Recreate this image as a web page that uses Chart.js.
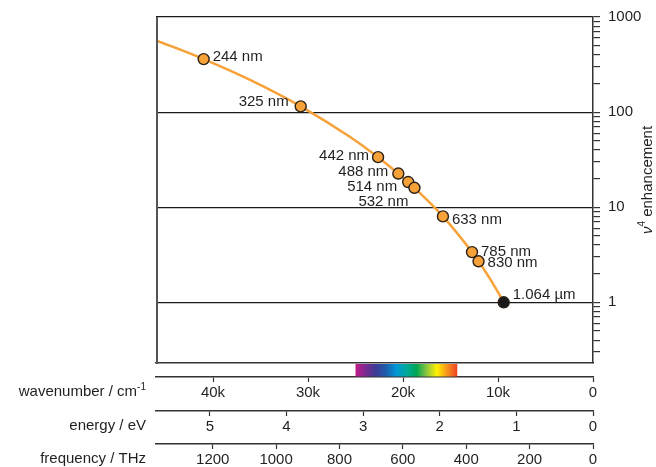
<!DOCTYPE html>
<html>
<head>
<meta charset="utf-8">
<script src="https://cdn.jsdelivr.net/npm/chart.js@4/dist/chart.umd.min.js"></script>
<style>
  html, body { margin: 0; padding: 0; background: #fff; }
</style>
</head>
<body>
<canvas id="enhChart" width="656" height="467"></canvas>
<script>
// laser lines and their v^4 enhancement (relative to 1064 nm)
const laserLabels = ["244 nm", "325 nm", "442 nm", "488 nm", "514 nm", "532 nm", "633 nm", "785 nm", "830 nm", "1.064 µm"];
const laserNm = [244, 325, 442, 488, 514, 532, 633, 785, 830, 1064];
const enhancement = [361, 115, 33.6, 22.6, 18.4, 16.0, 8.0, 3.37, 2.70, 1.0];

// orange curve: wavenumber (cm-1) and enhancement
const curveX = [46000, 40984, 36100, 30769, 25600, 22624, 20492, 19455, 18797, 15798, 12739, 12048, 10800, 9398, 9100];
const curveY = [569, 361, 218, 115, 55, 33.6, 22.6, 18.4, 16.0, 8.0, 3.37, 2.70, 1.74, 1.0, 0.88];

// visible band (nm)
const visibleNm = [400, 700];

// tick values
const wavenumberTicks = [0, 10000, 20000, 30000, 40000];
const energyTicks = [0, 1, 2, 3, 4, 5];
const frequencyTicks = [0, 200, 400, 600, 800, 1000, 1200];
const yTickLabels = [1, 10, 100, 1000];

const RANGE = 46000;              // cm-1 at the left edge of the plot
const CM_PER_EV = 8065.54;
const THZ_PER_CM = 0.0299792458;

const ink = "#231f20";
const family = "'Liberation Sans', Arial, Helvetica, sans-serif";
const font = { family: family, size: 15 };
const orange = "#f7a238";
const spectrumColors = ["#c4198b", "#7a2b8f", "#3b3b95", "#1f5eab", "#0096d8", "#00a99d", "#00a651", "#8dc63f", "#fff200", "#f7941d", "#ee4123"];

// where each laser label sits next to its dot
const labelPlace = [
  { dx: 9, dy: -2, align: "left" },
  { dx: -12, dy: -4, align: "right" },
  { dx: -9, dy: -1, align: "right" },
  { dx: -10, dy: -2, align: "right" },
  { dx: -11, dy: 5, align: "right" },
  { dx: -6, dy: 14, align: "right" },
  { dx: 9, dy: 3, align: "left" },
  { dx: 9, dy: 0, align: "left" },
  { dx: 9, dy: 2, align: "left" },
  { dx: 9, dy: -7, align: "left" }
];

const points = laserNm.map((nm, i) => ({ x: 1e7 / nm, y: enhancement[i] }));
const curve = curveX.map((x, i) => ({ x: x, y: curveY[i] }));

// minor + major ticks for the log axis
const yTicks = [];
for (let e = -1; e < 3; e++) {
  for (let m = 1; m <= 9; m++) {
    const v = +(m * Math.pow(10, e)).toPrecision(3);
    if (v >= 0.3 && v < 1000) yTicks.push(v);
  }
}
yTicks.push(1000);

function fixedTicks(list) {
  return scale => { scale.ticks = list.map(v => ({ value: v })); };
}

function bottomAxis(weight, max, ticks, height, fmt) {
  return {
    type: "linear", position: "bottom", reverse: true, min: 0, max: max, weight: weight,
    afterBuildTicks: fixedTicks(ticks),
    afterFit: s => { s.height = height; },
    border: { display: true, color: "#333", width: 1.5 },
    grid: { display: true, drawOnChartArea: false, drawTicks: true, tickLength: 5, color: "#333", tickWidth: 1.2 },
    ticks: { autoSkip: false, maxRotation: 0, color: ink, font: font, padding: 2, callback: fmt }
  };
}

const decor = {
  id: "decor",
  afterDatasetsDraw(chart) {
    const ctx = chart.ctx;
    const meta = chart.getDatasetMeta(0);
    ctx.save();
    ctx.font = "15px " + family;
    ctx.fillStyle = ink;
    ctx.textBaseline = "middle";
    meta.data.forEach((el, i) => {
      const p = labelPlace[i];
      ctx.textAlign = p.align;
      ctx.fillText(laserLabels[i], el.x + p.dx, el.y + p.dy);
    });
    ctx.restore();
  },
  afterDraw(chart) {
    const { ctx, chartArea: a, scales } = chart;
    ctx.save();

    // left edge of the plot box
    ctx.strokeStyle = "#555";
    ctx.lineWidth = 2;
    ctx.beginPath();
    ctx.moveTo(a.left + 1, a.top);
    ctx.lineTo(a.left + 1, a.bottom + 1);
    ctx.stroke();

    // visible spectrum band
    const x0 = scales.x.getPixelForValue(1e7 / visibleNm[0]);
    const x1 = scales.x.getPixelForValue(1e7 / visibleNm[1]);
    const g = ctx.createLinearGradient(x0, 0, x1, 0);
    spectrumColors.forEach((c, i) => g.addColorStop(i / (spectrumColors.length - 1), c));
    ctx.fillStyle = g;
    ctx.fillRect(x0, a.bottom + 1, x1 - x0, scales.xw.top - a.bottom - 1.5);

    // axis names at the left
    const right = 146;
    ctx.fillStyle = ink;
    ctx.textBaseline = "middle";
    ctx.textAlign = "left";
    const big = "15px " + family, small = "10px " + family;
    const rows = [
      { s: scales.xw, main: "wavenumber / cm", sup: "-1" },
      { s: scales.xe, main: "energy / eV", sup: "" },
      { s: scales.xf, main: "frequency / THz", sup: "" }
    ];
    rows.forEach(r => {
      ctx.font = big;
      const w1 = ctx.measureText(r.main).width;
      ctx.font = small;
      const w2 = r.sup ? ctx.measureText(r.sup).width : 0;
      const y = r.s.top + 15;
      ctx.font = big;
      ctx.fillText(r.main, right - w1 - w2, y);
      if (r.sup) {
        ctx.font = small;
        ctx.fillText(r.sup, right - w2, y - 5);
      }
    });

    // right axis title, reading upwards
    ctx.translate(648, 180);
    ctx.rotate(-Math.PI / 2);
    const it = "italic 15px " + family, t = "15px " + family, sm = "10px " + family;
    ctx.font = it; const wn = ctx.measureText("ν").width;
    ctx.font = sm; const w4 = ctx.measureText("4").width;
    ctx.font = t; const we = ctx.measureText(" enhancement").width;
    let x = -(wn + w4 + we) / 2;
    ctx.font = it; ctx.fillText("ν", x, 0); x += wn;
    ctx.font = sm; ctx.fillText("4", x, -6); x += w4;
    ctx.font = t; ctx.fillText(" enhancement", x, 0);
    ctx.restore();
  }
};

new Chart(document.getElementById("enhChart"), {
  type: "line",
  data: {
    datasets: [
      {
        data: points,
        showLine: false,
        pointRadius: 5.5,
        pointBorderWidth: 1.4,
        pointBorderColor: "#2b2118",
        pointBackgroundColor: laserNm.map(nm => nm === 1064 ? "#1a1a1a" : orange),
        order: 0
      },
      {
        data: curve,
        borderColor: orange,
        borderWidth: 2.5,
        pointRadius: 0,
        cubicInterpolationMode: "monotone",
        fill: false,
        order: 1
      }
    ]
  },
  options: {
    responsive: false,
    animation: false,
    layout: { padding: { left: 156, top: 16, right: 0, bottom: 0 } },
    plugins: { legend: { display: false }, tooltip: { enabled: false } },
    scales: {
      x: {
        type: "linear", position: "bottom", reverse: true, min: 0, max: RANGE, weight: 0,
        afterFit: s => { s.height = 14; },
        border: { display: true, color: "#333", width: 1.5 },
        grid: { display: true, drawOnChartArea: false, drawTicks: false },
        ticks: { display: false }
      },
      xw: bottomAxis(1, RANGE, wavenumberTicks, 34, v => v === 0 ? "0" : (v / 1000) + "k"),
      xe: bottomAxis(2, RANGE / CM_PER_EV, energyTicks, 33, v => String(v)),
      xf: bottomAxis(3, RANGE * THZ_PER_CM, frequencyTicks, 23, v => String(v)),
      y: {
        type: "logarithmic", position: "right", min: 0.23, max: 1000,
        afterBuildTicks: fixedTicks(yTicks),
        afterFit: s => { s.width = 63; },
        border: { display: true, color: "#333", width: 1.5 },
        grid: {
          drawOnChartArea: true, drawTicks: true, tickLength: 7, lineWidth: 1.2,
          color: c => (c.tick && yTickLabels.includes(c.tick.value)) ? "#1a1a1a" : "rgba(0,0,0,0)",
          tickColor: "#333"
        },
        ticks: {
          autoSkip: false, color: ink, font: font, padding: 8,
          callback: v => yTickLabels.includes(v) ? String(v) : ""
        }
      }
    }
  },
  plugins: [decor]
});
</script>
</body>
</html>
